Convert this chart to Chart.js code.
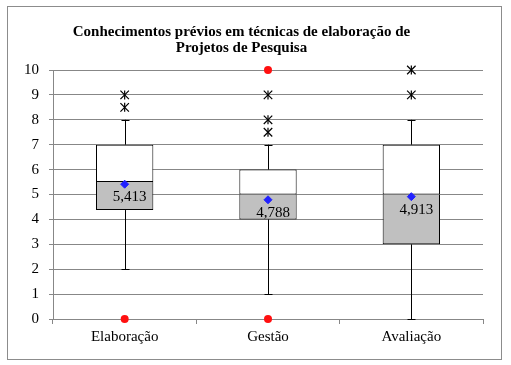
<!DOCTYPE html>
<html><head><meta charset="utf-8">
<script src="https://cdn.jsdelivr.net/npm/chart.js@4"></script>
<style>html,body{margin:0;padding:0;background:#fff}canvas{display:block}</style>
</head><body>
<canvas id="c" width="511" height="365"></canvas>
<script>
const categories = ['Elaboração', 'Gestão', 'Avaliação'];
const minVals = [2, 1, 0];
const q1Vals = [4.375, 4, 3];
const medianVals = [5.5, 5, 5];
const q3Vals = [7, 6, 7];
const maxVals = [8, 7, 8];
const meanVals = [5.413, 4.788, 4.913];
const outlierVals = [[9, 8.5], [9, 8, 7.5], [10, 9]];
const extremeVals = [[0], [10, 0], []];
const yTicks = [0, 1, 2, 3, 4, 5, 6, 7, 8, 9, 10];

const FONT = 'Liberation Serif, Times New Roman, serif';
const GRID = '#878787';

const toPoints = arr => arr.flatMap((vals, i) => vals.map(v => ({ x: categories[i], y: v })));
const outlierPts = toPoints(outlierVals);
const extremePts = toPoints(extremeVals);
const meanPts = meanVals.map((v, i) => ({ x: categories[i], y: v }));

const framePlugin = {
  id: 'frame',
  beforeDraw(chart) {
    const ctx = chart.ctx;
    ctx.save();
    ctx.fillStyle = '#fff';
    ctx.fillRect(0, 0, chart.width, chart.height);
    ctx.strokeStyle = '#8c8c8c';
    ctx.lineWidth = 1;
    ctx.strokeRect(7.5, 6.5, 494, 353);
    ctx.restore();
  }
};

const whiskerPlugin = {
  id: 'whiskers',
  beforeDatasetsDraw(chart) {
    const ctx = chart.ctx, x = chart.scales.x, y = chart.scales.y;
    ctx.save();
    ctx.strokeStyle = '#000';
    ctx.lineWidth = 1;
    categories.forEach((c, i) => {
      const cx = Math.round(x.getPixelForValue(i)) + 0.5;
      const segs = [[q3Vals[i], maxVals[i]], [q1Vals[i], minVals[i]]];
      segs.forEach(([a, b]) => {
        const ya = y.getPixelForValue(a), yb = y.getPixelForValue(b);
        ctx.beginPath();
        ctx.moveTo(cx, ya);
        ctx.lineTo(cx, yb);
        ctx.stroke();
        const yc = Math.round(yb) + 0.5;
        ctx.beginPath();
        ctx.moveTo(cx - 4, yc);
        ctx.lineTo(cx + 4, yc);
        ctx.stroke();
      });
    });
    ctx.restore();
  }
};

const labelPlugin = {
  id: 'meanLabels',
  afterDatasetsDraw(chart) {
    const ctx = chart.ctx, x = chart.scales.x, y = chart.scales.y;
    ctx.save();
    ctx.fillStyle = '#000';
    ctx.font = '15px ' + FONT;
    ctx.textAlign = 'center';
    ctx.textBaseline = 'middle';
    meanVals.forEach((v, i) => {
      const cx = x.getPixelForValue(i) + 5;
      const cy = y.getPixelForValue(v) + 13;
      ctx.fillText(v.toFixed(3).replace('.', ','), cx, cy);
    });
    ctx.restore();
  }
};

const pointBase = { type: 'line', showLine: false, clip: false };

new Chart(document.getElementById('c'), {
  type: 'bar',
  data: {
    labels: categories,
    datasets: [
      Object.assign({}, pointBase, {
        label: 'Média', data: meanPts,
        pointStyle: 'rectRot', pointRadius: 4, pointHoverRadius: 4,
        backgroundColor: '#2222ff', borderColor: '#2222ff', borderWidth: 1
      }),
      Object.assign({}, pointBase, {
        label: 'Extremos', data: extremePts,
        pointStyle: 'circle', pointRadius: 4, pointHoverRadius: 4,
        backgroundColor: '#ff1010', borderColor: '#ff1010', borderWidth: 0
      }),
      Object.assign({}, pointBase, {
        label: 'Outliers', data: outlierPts,
        pointStyle: 'crossRot', pointRadius: 6, pointHoverRadius: 6,
        borderColor: '#000', borderWidth: 1.2
      }),
      Object.assign({}, pointBase, {
        label: 'Outliers2', data: outlierPts,
        pointStyle: 'line', pointRotation: 90, pointRadius: 4.5, pointHoverRadius: 4.5,
        borderColor: '#000', borderWidth: 1.2
      }),
      {
        label: 'Q1-Mediana', data: categories.map((c, i) => [q1Vals[i], medianVals[i]]),
        backgroundColor: '#c0c0c0', borderColor: '#000',
        borderWidth: { top: 0, left: 1, right: 1, bottom: 1 },
        borderSkipped: false, grouped: false, barPercentage: 0.4, categoryPercentage: 1
      },
      {
        label: 'Mediana-Q3', data: categories.map((c, i) => [medianVals[i], q3Vals[i]]),
        backgroundColor: '#ffffff', borderColor: '#000', borderWidth: 1,
        borderSkipped: false, grouped: false, barPercentage: 0.4, categoryPercentage: 1
      }
    ]
  },
  options: {
    responsive: false,
    animation: false,
    devicePixelRatio: 1,
    layout: { padding: { left: 0, right: 28, top: 0, bottom: 0 } },
    plugins: {
      legend: { display: false },
      tooltip: { enabled: false },
      title: {
        display: true,
        text: ['Conhecimentos prévios em técnicas de elaboração de', 'Projetos de Pesquisa'],
        color: '#000',
        font: { family: FONT, size: 15, weight: 'bold', lineHeight: 16 / 15 },
        padding: { top: 24, bottom: 14 }
      }
    },
    scales: {
      x: {
        offset: true,
        grid: { offset: true, drawOnChartArea: false, drawTicks: true, tickLength: 5, color: GRID },
        border: { display: true, color: GRID },
        ticks: { color: '#000', font: { family: FONT, size: 15 }, padding: 4, maxRotation: 0 },
        afterFit(s) { s.height = 46; }
      },
      y: {
        min: 0, max: 10,
        afterBuildTicks(s) { s.ticks = yTicks.map(v => ({ value: v })); },
        grid: { color: GRID, tickLength: 4, drawTicks: true },
        border: { display: true, color: GRID },
        ticks: { color: '#000', font: { family: FONT, size: 15 }, padding: 10 },
        afterFit(s) { s.width = 53; }
      }
    }
  },
  plugins: [framePlugin, whiskerPlugin, labelPlugin]
});
</script>
</body></html>
